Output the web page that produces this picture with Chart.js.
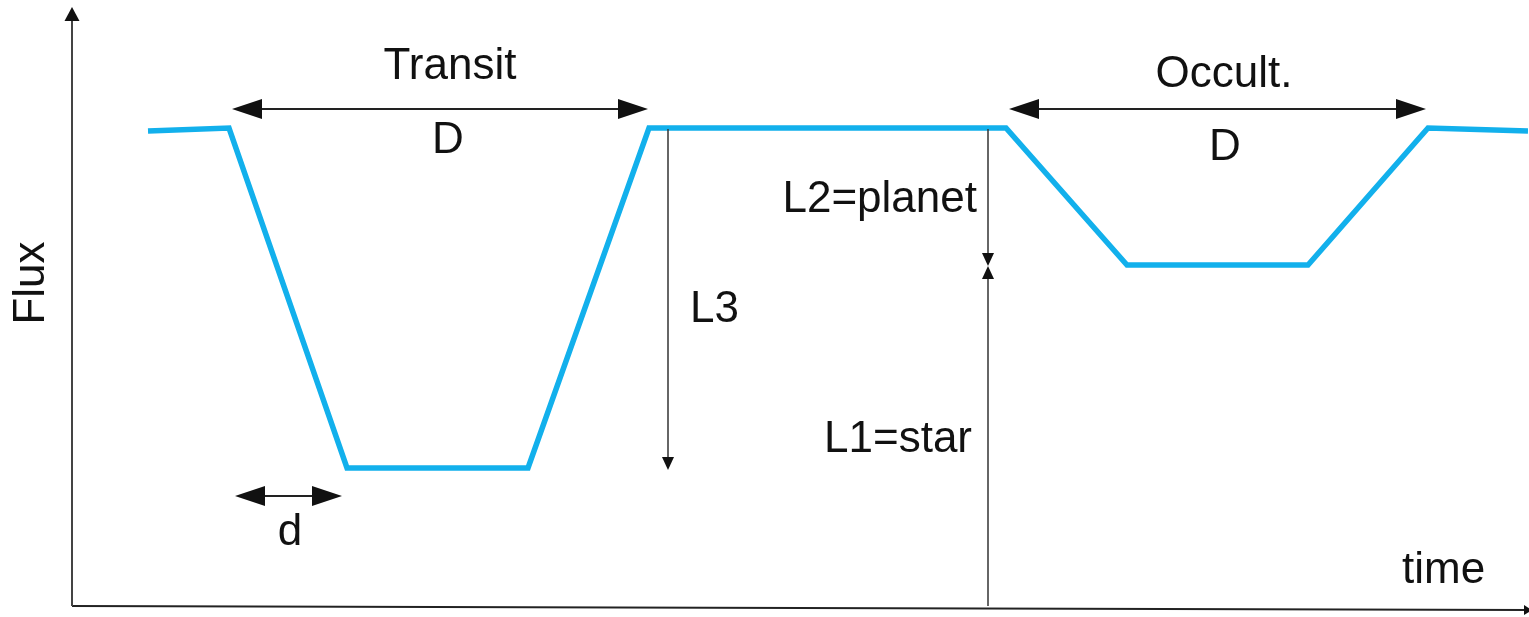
<!DOCTYPE html>
<html>
<head>
<meta charset="utf-8">
<script src="https://cdn.jsdelivr.net/npm/chart.js@4/dist/chart.umd.min.js"></script>
<style>
  html, body { margin: 0; padding: 0; background: #ffffff; }
  #wrap { width: 1529px; height: 617px; position: relative; }
  canvas { display: block; }
</style>
</head>
<body>
<div id="wrap"><canvas id="c" width="1529" height="617"></canvas></div>
<script>
// ---- Light curve (time, flux) ----
const times = [76, 157, 275, 456, 577, 934, 1055, 1236, 1356, 1456];
const flux  = [475, 478, 138, 138, 478, 478, 341, 341, 478, 475];

// ---- Axis ends ----
const axisX = [0, 1456];          // x-axis from, to (time)
const axisXFlux = [0, -4];        // flux at x-axis ends
const axisY = [0, 599];           // y-axis from, to (flux)

// ---- Double-headed horizontal arrows: [x1, x2, y] ----
const hArrows = [[160, 576, 497], [937, 1354, 497], [163, 270, 110]];
// ---- Vertical arrows: [x, yFrom, yTo]  (head at yTo) ----
const vArrows = [[596, 477, 136], [916, 477, 340], [916, 0, 340]];

// ---- Text labels ----
const labelText  = ['Transit', 'D', 'Occult.', 'D', 'L2=planet', 'L3', 'L1=star', 'd', 'time'];
const labelX     = [378, 376, 1152, 1153, 905, 618, 900, 218, 1330];
const labelY     = [527, 453, 519, 446, 394, 284, 154, 61, 23];
const labelAlign = ['center', 'center', 'center', 'center', 'right', 'left', 'right', 'center', 'left'];
const yTitle = 'Flux';
const yTitleFlux = 323;

const FONT = '44px "Liberation Sans", Arial, sans-serif';

const diagram = {
  id: 'diagram',
  afterDatasetsDraw(chart) {
    const ctx = chart.ctx;
    const xs = chart.scales.x, ys = chart.scales.y;
    const px = v => xs.getPixelForValue(v);
    const py = v => ys.getPixelForValue(v);
    ctx.save();

    function tri(tipX, tipY, dx, dy, len, half) {
      // dx,dy unit direction pointing toward the tip
      const bx = tipX - dx * len, by = tipY - dy * len;
      const nx = -dy, ny = dx;
      ctx.beginPath();
      ctx.moveTo(tipX, tipY);
      ctx.lineTo(bx + nx * half, by + ny * half);
      ctx.lineTo(bx - nx * half, by - ny * half);
      ctx.closePath();
      ctx.fill();
    }

    // axes
    ctx.strokeStyle = '#222';
    ctx.fillStyle = '#111';
    ctx.lineWidth = 2;
    ctx.beginPath();
    ctx.moveTo(px(axisX[0]), py(axisXFlux[0]));
    ctx.lineTo(px(axisX[1]), py(axisXFlux[1]));
    ctx.stroke();
    tri(px(axisX[1]) + 4, py(axisXFlux[1]), 1, 0, 8, 5);

    ctx.strokeStyle = '#444';
    ctx.beginPath();
    ctx.moveTo(px(0), py(axisY[0]));
    ctx.lineTo(px(0), py(axisY[1]) + 10);
    ctx.stroke();
    tri(px(0), py(axisY[1]), 0, -1, 14, 7.5);

    // horizontal double arrows
    ctx.strokeStyle = '#222';
    ctx.lineWidth = 2;
    hArrows.forEach(([a, b, y]) => {
      const x1 = px(a), x2 = px(b), yy = py(y);
      ctx.beginPath();
      ctx.moveTo(x1 + 20, yy);
      ctx.lineTo(x2 - 20, yy);
      ctx.stroke();
      tri(x1, yy, -1, 0, 30, 10);
      tri(x2, yy, 1, 0, 30, 10);
    });

    // vertical arrows
    ctx.strokeStyle = '#333';
    ctx.lineWidth = 1.5;
    vArrows.forEach(([x, f, t]) => {
      const xx = px(x), y1 = py(f), y2 = py(t);
      const dir = y2 > y1 ? 1 : -1;
      ctx.beginPath();
      ctx.moveTo(xx, y1);
      ctx.lineTo(xx, y2 - dir * 8);
      ctx.stroke();
      tri(xx, y2, 0, dir, 13, 6);
    });

    // labels
    ctx.fillStyle = '#111';
    ctx.font = FONT;
    ctx.textBaseline = 'alphabetic';
    labelText.forEach((t, i) => {
      ctx.textAlign = labelAlign[i];
      ctx.fillText(t, px(labelX[i]), py(labelY[i]));
    });

    // y title
    ctx.save();
    ctx.translate(chart.chartArea.left - 40, py(yTitleFlux));
    ctx.rotate(-Math.PI / 2);
    ctx.textAlign = 'center';
    ctx.textBaseline = 'middle';
    ctx.fillText(yTitle, 0, 0);
    ctx.restore();

    ctx.restore();
  }
};

new Chart(document.getElementById('c'), {
  type: 'scatter',
  data: {
    datasets: [{
      label: 'Flux',
      data: times.map((t, i) => ({ x: t, y: flux[i] })),
      showLine: true,
      borderColor: '#12b0ec',
      borderWidth: 5.5,
      pointRadius: 0,
      borderJoinStyle: 'miter',
      fill: false,
      tension: 0
    }]
  },
  options: {
    responsive: false,
    animation: false,
    devicePixelRatio: 1,
    layout: { padding: { left: 72, right: 1, top: 6, bottom: 0 } },
    plugins: { legend: { display: false }, tooltip: { enabled: false } },
    scales: {
      x: { type: 'linear', min: 0, max: 1456, display: false },
      y: { type: 'linear', min: -11, max: 600, display: false }
    }
  },
  plugins: [diagram]
});
</script>
</body>
</html>
